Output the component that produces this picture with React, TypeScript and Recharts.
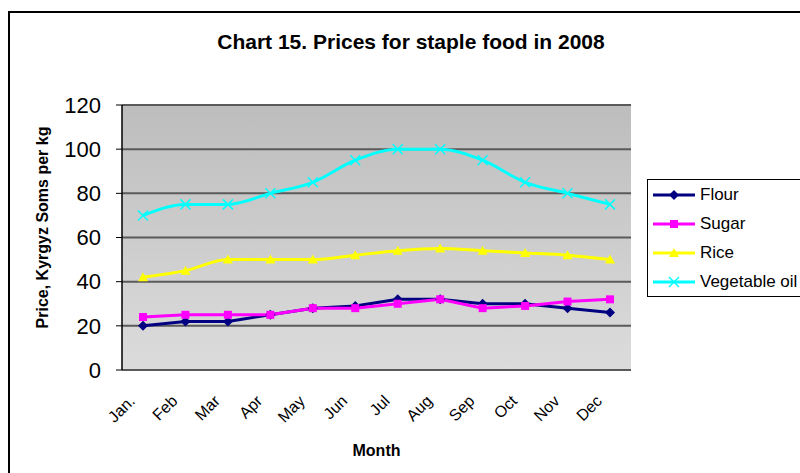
import React from 'react';
import { LineChart, Line, XAxis, YAxis, CartesianGrid, Legend, Label } from 'recharts';

const months = ['Jan.', 'Feb', 'Mar', 'Apr', 'May', 'Jun', 'Jul', 'Aug', 'Sep', 'Oct', 'Nov', 'Dec'];
const flour = [20, 22, 22, 25, 28, 29, 32, 32, 30, 30, 28, 26];
const sugar = [24, 25, 25, 25, 28, 28, 30, 32, 28, 29, 31, 32];
const rice = [42, 45, 50, 50, 50, 52, 54, 55, 54, 53, 52, 50];
const vegetableOil = [70, 75, 75, 80, 85, 95, 100, 100, 95, 85, 80, 75];
const yTicks = [0, 20, 40, 60, 80, 100, 120];
// tick marks sit between the months, Excel style
const monthBounds = [...months.map((_, i) => i), months.length];

const FONT = '"Liberation Sans", Arial, sans-serif';

const series = [
    { key: 'flour', name: 'Flour', color: '#000080', marker: 'diamond', curve: 'linear' },
    { key: 'sugar', name: 'Sugar', color: '#FF00FF', marker: 'square', curve: 'linear' },
    { key: 'rice', name: 'Rice', color: '#FFFF00', marker: 'triangle', curve: 'monotone' },
    { key: 'oil', name: 'Vegetable oil', color: '#00FFFF', marker: 'cross', curve: 'monotone' },
] as const;

const data = months.map((month, i) => ({
    month,
    flour: flour[i],
    sugar: sugar[i],
    rice: rice[i],
    oil: vegetableOil[i],
}));

function Marker({ kind, cx, cy, color }: { kind: string; cx: number; cy: number; color: string }) {
    if (kind === 'diamond') {
        return <polygon points={`${cx},${cy - 5} ${cx + 5},${cy} ${cx},${cy + 5} ${cx - 5},${cy}`} fill={color} />;
    }
    if (kind === 'square') {
        return <rect x={cx - 4} y={cy - 4} width={8} height={8} fill={color} />;
    }
    if (kind === 'triangle') {
        return <polygon points={`${cx},${cy - 5} ${cx + 5},${cy + 4} ${cx - 5},${cy + 4}`} fill={color} />;
    }
    return (
        <g stroke={color} strokeWidth={1.5}>
            <line x1={cx - 5} y1={cy - 5} x2={cx + 5} y2={cy + 5} />
            <line x1={cx - 5} y1={cy + 5} x2={cx + 5} y2={cy - 5} />
        </g>
    );
}

const MonthTick = (props: any) => {
    const { x, y, payload } = props;
    const ax = x - 7;
    const ay = y + 32;
    return (
        <text
            x={ax}
            y={ay}
            textAnchor="end"
            fontSize={16}
            fontFamily={FONT}
            fill="#000"
            transform={`rotate(-45, ${ax}, ${ay})`}
        >
            {payload.value}
        </text>
    );
};

const PriceLabel = (props: any) => {
    const { viewBox } = props;
    const x = viewBox.x + 20;
    const y = viewBox.y + viewBox.height / 2 - 10;
    return (
        <text
            x={x}
            y={y}
            textAnchor="middle"
            dominantBaseline="central"
            fontFamily={FONT}
            fontWeight="bold"
            fontSize={16}
            fill="#000"
            transform={`rotate(-90, ${x}, ${y})`}
        >
            Price, Kyrgyz Soms per kg
        </text>
    );
};

const LegendBox = (props: any) => {
    const order = (name: string) => series.findIndex(s => s.name === name);
    const entries = [...(props.payload || [])].sort((a: any, b: any) => order(a.value) - order(b.value));
    return (
        <div style={{
            width: 175, height: 118, boxSizing: 'border-box', border: '1px solid #000',
            background: '#fff', paddingTop: 0, fontFamily: FONT, fontSize: 17,
        }}>
            {entries.map((entry: any) => {
                const s = series[order(entry.value)];
                return (
                    <div key={entry.value} style={{ height: 29, display: 'flex', alignItems: 'center', whiteSpace: 'nowrap' }}>
                        <svg width={43} height={16} style={{ marginLeft: 5, marginRight: 4 }}>
                            <line x1={0} y1={8} x2={42} y2={8} stroke={entry.color} strokeWidth={3} />
                            <Marker kind={s ? s.marker : 'square'} cx={21} cy={8} color={entry.color} />
                        </svg>
                        <span>{entry.value}</span>
                    </div>
                );
            })}
        </div>
    );
};

export default function App() {
    return (
        <div style={{ position: 'absolute', left: 0, top: 0, width: 800, height: 473, overflow: 'hidden', background: '#fff' }}>
            {/* chart frame */}
            <div style={{
                position: 'absolute', left: 8, top: 11, width: 830, height: 500,
                border: '2px solid #000', boxSizing: 'border-box',
            }} />

            <div style={{
                position: 'absolute', left: 0, top: 31, width: 822, textAlign: 'center',
                fontFamily: FONT, fontWeight: 'bold', fontSize: 21, lineHeight: '21px',
            }}>
                Chart 15. Prices for staple food in 2008
            </div>

            <div style={{ position: 'absolute', left: 0, top: 0 }}>
                <LineChart
                    width={800}
                    height={473}
                    data={data}
                    margin={{ top: 105, right: 169, bottom: 15, left: 22 }}
                >
                    <defs>
                        <linearGradient id="plotBg" x1="0" y1="0" x2="0" y2="1">
                            <stop offset="0%" stopColor="#bdbdbd" />
                            <stop offset="100%" stopColor="#dcdcdc" />
                        </linearGradient>
                    </defs>

                    <CartesianGrid
                        xAxisId="cat"
                        yAxisId="left"
                        vertical={false}
                        stroke="#5a5a5a"
                        strokeWidth={2}
                        fill="url(#plotBg)"
                        fillOpacity={1}
                    />

                    <XAxis
                        xAxisId="bounds"
                        type="number"
                        domain={[0, months.length]}
                        ticks={monthBounds}
                        interval={0}
                        allowDataOverflow
                        height={0}
                        tick={false}
                        tickSize={6}
                        tickLine={{ stroke: '#000', strokeWidth: 1 }}
                        axisLine={{ stroke: '#000', strokeWidth: 1.5 }}
                    />
                    <XAxis
                        xAxisId="cat"
                        dataKey="month"
                        interval={0}
                        padding={{ left: 21, right: 21 }}
                        height={88}
                        axisLine={false}
                        tickLine={false}
                        tickSize={0}
                        tickMargin={0}
                        tick={<MonthTick />}
                        label={{
                            value: 'Month', position: 'insideBottom', offset: 2,
                            style: { fontFamily: FONT, fontWeight: 'bold', fontSize: 16, fill: '#000' },
                        }}
                    />
                    <YAxis
                        yAxisId="left"
                        domain={[0, 120]}
                        ticks={yTicks}
                        interval={0}
                        width={100}
                        tickSize={6}
                        tickMargin={15}
                        tickLine={{ stroke: '#000' }}
                        axisLine={{ stroke: '#000', strokeWidth: 1.5 }}
                        tick={{ fontFamily: FONT, fontSize: 22, fill: '#000' }}
                    >
                        <Label content={<PriceLabel />} />
                    </YAxis>
                    <YAxis
                        yAxisId="right"
                        orientation="right"
                        domain={[0, 120]}
                        width={0}
                        tick={false}
                        tickLine={false}
                        axisLine={{ stroke: '#808080', strokeWidth: 2 }}
                    />

                    <Legend
                        layout="vertical"
                        align="center"
                        verticalAlign="middle"
                        wrapperStyle={{ left: 647, top: 179, width: 175 }}
                        content={<LegendBox />}
                    />

                    {series.map(s => (
                        <Line
                            key={s.key}
                            xAxisId="cat"
                            yAxisId="left"
                            type={s.curve}
                            dataKey={s.key}
                            name={s.name}
                            stroke={s.color}
                            strokeWidth={3}
                            dot={(p: any) => <Marker key={`${s.key}-${p.index}`} kind={s.marker} cx={p.cx} cy={p.cy} color={s.color} />}
                            activeDot={false}
                            isAnimationActive={false}
                        />
                    ))}
                </LineChart>
            </div>
        </div>
    );
}
